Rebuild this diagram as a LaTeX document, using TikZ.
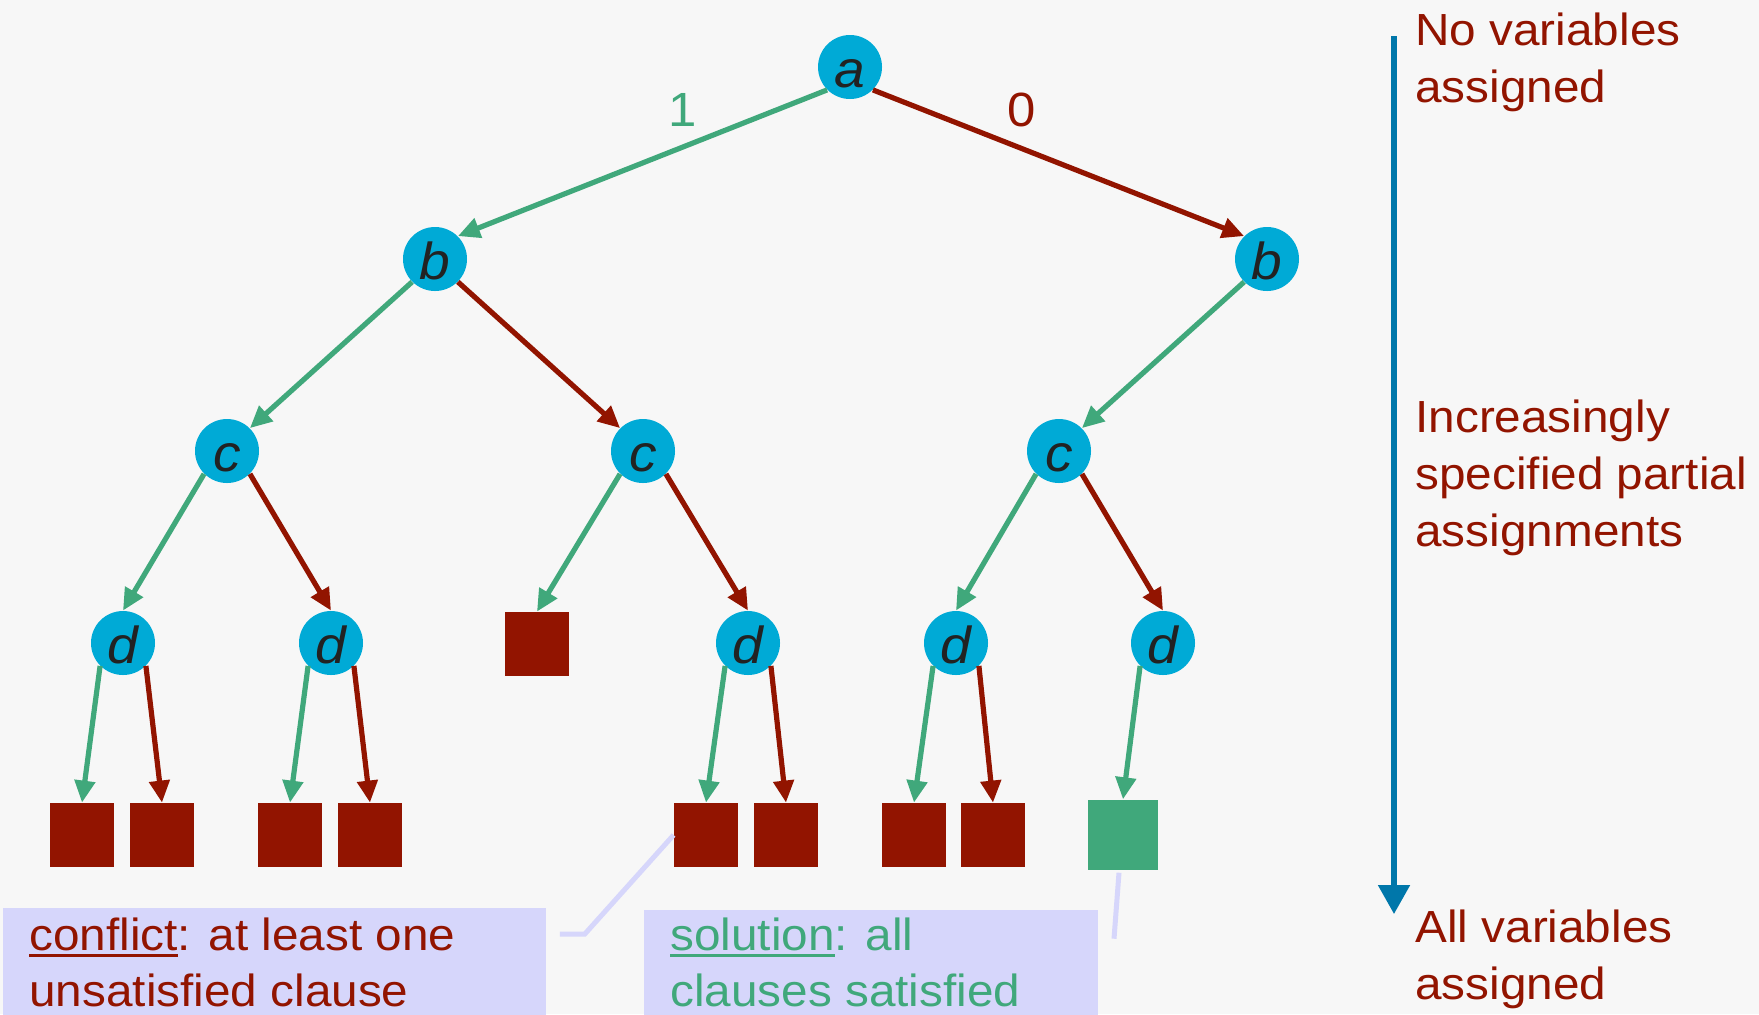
\documentclass[tikz,border=0pt]{standalone}
\usepackage{fontspec}
\setmainfont{Liberation Sans}[FakeStretch=1.06]
\usetikzlibrary{arrows.meta,calc}

\definecolor{bgcol}{RGB}{247,247,247}
\definecolor{falsered}{RGB}{146,20,0}
\definecolor{truegreen}{RGB}{64,168,123}
\definecolor{varblue}{RGB}{0,170,214}
\definecolor{depthblue}{RGB}{0,119,170}
\definecolor{lettergray}{RGB}{34,34,34}
\definecolor{notelav}{RGB}{214,214,251}

% underline with a rule of chosen thickness
\newcommand{\underrule}[1]{\setbox0\hbox{#1}\rlap{\rule[-3.6pt]{\wd0}{1.5pt}}\box0}

\begin{document}
\begin{tikzpicture}[x=0.5pt,y=-0.5pt,
  var/.style={circle, fill=varblue, minimum size=32pt, inner sep=0pt,
    text=lettergray, text height=20pt, text depth=0pt,
    font=\fontsize{26pt}{26pt}\selectfont\itshape},
  deadend/.style={rectangle, fill=falsered, minimum size=32pt, inner sep=0pt},
  goal/.style={rectangle, fill=truegreen, minimum size=35.3pt, inner sep=0pt},
  branch/.style={line width=2.6pt, -{Triangle[length=11pt,width=10pt]}},
  one/.style={branch, draw=truegreen},
  zero/.style={branch, draw=falsered},
  edgelabel/.style={font=\fontsize{24pt}{24pt}\selectfont, inner sep=0pt},
  sidetext/.style={anchor=base west, align=left, inner sep=0pt, text=falsered,
    font=\fontsize{22.5pt}{28.3pt}\selectfont},
  notebox/.style={rectangle, fill=notelav, anchor=north west, inner sep=0pt},
  notetext/.style={anchor=base west, align=left, inner sep=0pt,
    font=\fontsize{22.5pt}{28pt}\selectfont},
  callout/.style={draw=notelav, line width=2.5pt},
]
\fill[bgcol] (0,0) rectangle (1759,1014);
\useasboundingbox (0,0) rectangle (1759,1014);

% decision variables
\node[var] (a)  at (850,67)  {a};
\node[var] (b1) at (435,259) {b};
\node[var] (b2) at (1267,259) {b};
\node[var] (c1) at (227,451) {c};
\node[var] (c2) at (643,451) {c};
\node[var] (c3) at (1059,451) {c};
\node[var] (d1) at (123,643) {d};
\node[var] (d2) at (331,643) {d};
\node[var] (d3) at (748,643) {d};
\node[var] (d4) at (956,643) {d};
\node[var] (d5) at (1163,643) {d};

% leaves
\node[deadend] (k0) at (537,644) {};
\node[deadend] (k1) at (82,835) {};
\node[deadend] (k2) at (162,835) {};
\node[deadend] (k3) at (290,835) {};
\node[deadend] (k4) at (370,835) {};
\node[deadend] (k5) at (706,835) {};
\node[deadend] (k6) at (786,835) {};
\node[deadend] (k7) at (914,835) {};
\node[deadend] (k8) at (993,835) {};
\node[goal] (sol) at (1123,835) {};

% branches
\draw[one]  (a.225) -- (b1.45);
\draw[zero] (a.315) -- (b2.135);
\draw[one]  (b1.225) -- (c1.45);
\draw[zero] (b1.315) -- (c2.135);
\draw[one]  (b2.225) -- (c3.45);
\draw[one]  (c1.225) -- (d1.north);
\draw[zero] (c1.315) -- (d2.north);
\draw[one]  (c2.225) -- (k0.north);
\draw[zero] (c2.315) -- (d3.north);
\draw[one]  (c3.225) -- (d4.north);
\draw[zero] (c3.315) -- (d5.north);
\draw[one]  (d1.225) -- (k1.north);
\draw[zero] (d1.315) -- (k2.north);
\draw[one]  (d2.225) -- (k3.north);
\draw[zero] (d2.315) -- (k4.north);
\draw[one]  (d3.225) -- (k5.north);
\draw[zero] (d3.315) -- (k6.north);
\draw[one]  (d4.225) -- (k7.north);
\draw[zero] (d4.315) -- (k8.north);
\draw[one]  (d5.225) -- (sol.north);

\node[edgelabel, text=truegreen] (lab1) at (683,110) {1};
\node[edgelabel, text=falsered] (lab0) at (1022,110) {0};

% depth arrow
\coordinate (dtop) at (1394,36);
\coordinate (dbot) at (1394,914);
\draw[depthblue, line width=2.6pt, -{Triangle[length=14.5pt,width=15.5pt]}] (dtop) -- (dbot);

% multi-line nodes are placed at the baseline of their last line
\node[sidetext] (none) at (1415,102) {No variables\\assigned};
\node[sidetext] (partial) at (1415,546) {Increasingly\\specified partial\\assignments};
\node[sidetext] (all) at (1415,999) {All variables\\assigned};

% notes
\node[notebox, minimum width=271.5pt, minimum height=56pt] (cbox) at (3,908) {};
\node[notebox, minimum width=227pt, minimum height=56pt] (sbox) at (644,910) {};
\node[notetext, text=falsered] (ctext) at (29,1006) {\underrule{conflict}: at least one\\unsatisfied clause};
\node[notetext, text=truegreen] (stext) at (670,1006) {\underrule{solution}: all\\clauses satisfied};

\draw[callout] ($(cbox.north east)+(13,26)$) -- ++(25,0) -- (k5.west);
\draw[callout] ($(sol.south)+(-4,2)$) -- ($(sol.south)+(-9,68)$);
\end{tikzpicture}
\end{document}
